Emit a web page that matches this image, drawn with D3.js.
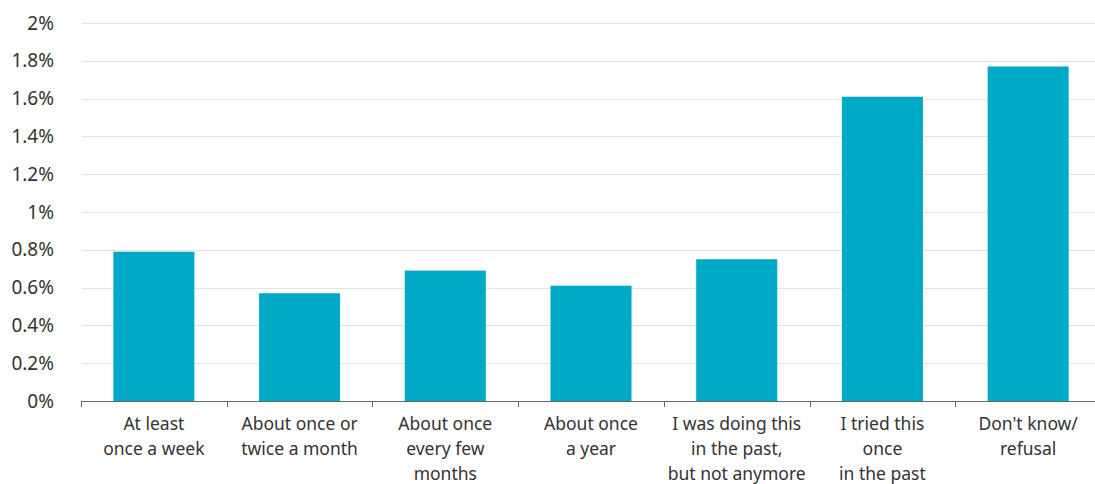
<!DOCTYPE html>
<html><head><meta charset="utf-8">
<script src="https://cdn.jsdelivr.net/npm/d3@7"></script>
<style>body{margin:0;background:#fff}svg{display:block}text{font-family:"Noto Sans",sans-serif;fill:#333}</style>
</head><body><svg id="c" width="1095" height="484"></svg>
<script>
const categories = [
  ["At least","once a week"],
  ["About once or","twice a month"],
  ["About once","every few","months"],
  ["About once","a year"],
  ["I was doing this","in the past,","but not anymore"],
  ["I tried this","once","in the past"],
  ["Don't know/","refusal"]
];
const values = [0.79, 0.57, 0.69, 0.61, 0.75, 1.61, 1.77];
const yTicks = [0, 0.2, 0.4, 0.6, 0.8, 1, 1.2, 1.4, 1.6, 1.8, 2];
const yTickLabels = ["0%","0.2%","0.4%","0.6%","0.8%","1%","1.2%","1.4%","1.6%","1.8%","2%"];

const svg = d3.select("#c");
const mLeft = 81, mRight = 1101, mTop = 23, mBottom = 401;
const x = d3.scaleBand().domain(d3.range(categories.length)).range([mLeft, mRight]).paddingInner(0.444).paddingOuter(0.222);
const y = d3.scaleLinear().domain([0, 2]).range([mBottom, mTop]);

// gridlines
svg.append("g").selectAll("line").data(yTicks.slice(1)).join("line")
  .attr("x1", mLeft+1).attr("x2", mRight)
  .attr("y1", d => Math.round(y(d))+0.5).attr("y2", d => Math.round(y(d))+0.5)
  .attr("stroke", "#e3e3e3").attr("stroke-width", 1);

// y labels
svg.append("g").selectAll("text").data(yTicks).join("text")
  .attr("x", 54).attr("y", d => y(d)).attr("dy", "0.35em")
  .attr("text-anchor", "end").attr("font-size", 19)
  .text((d,i) => yTickLabels[i]);

// bars
svg.append("g").selectAll("rect").data(values).join("rect")
  .attr("x", (d,i) => x(i)).attr("width", x.bandwidth())
  .attr("y", d => y(d)).attr("height", d => y(0) - y(d))
  .attr("fill", "#00aac6");

// x axis
const step = x.step();
const tickXs = d3.range(categories.length + 1).map(i => mLeft + i*step);
svg.append("line").attr("x1", mLeft).attr("x2", mRight)
  .attr("y1", mBottom+0.5).attr("y2", mBottom+0.5).attr("stroke", "#666").attr("stroke-width", 1);
svg.append("g").selectAll("line").data(tickXs).join("line")
  .attr("x1", d => Math.round(d)+0.5).attr("x2", d => Math.round(d)+0.5)
  .attr("y1", mBottom).attr("y2", mBottom+6).attr("stroke", "#666");

const xl = svg.append("g").selectAll("text").data(categories).join("text")
  .attr("text-anchor", "middle").attr("font-size", 17.5)
  .attr("transform", (d,i) => `translate(${mLeft + (i+0.5)*step},${430})`);
xl.selectAll("tspan").data(d => d).join("tspan")
  .attr("x", 0).attr("dy", (d,j) => j === 0 ? 0 : 25).text(d => d);
</script></body></html>
